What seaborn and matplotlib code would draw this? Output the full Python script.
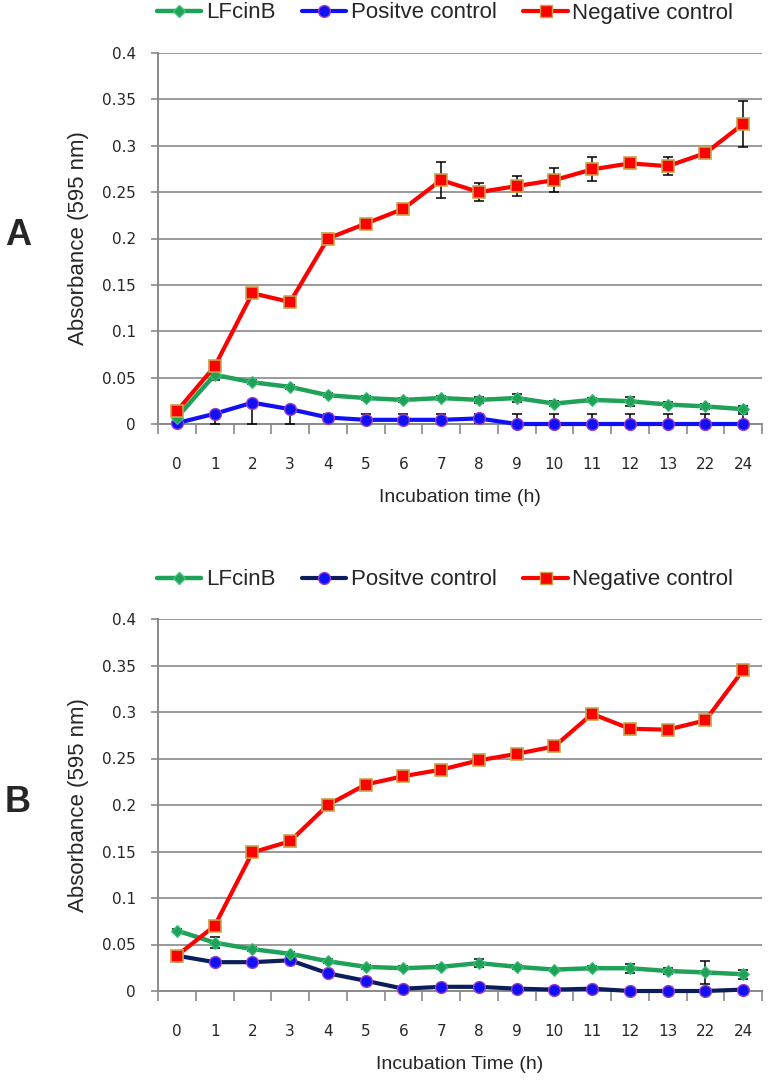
import numpy as np
import pandas as pd
import matplotlib
matplotlib.use("Agg")
import matplotlib.pyplot as plt
import seaborn as sns
from matplotlib.lines import Line2D

# ---------------- data ----------------
time_labels = ["0", "1", "2", "3", "4", "5", "6", "7", "8", "9", "10", "11", "12", "13", "22", "24"]
y_tick_values = [0, 0.05, 0.1, 0.15, 0.2, 0.25, 0.3, 0.35, 0.4]
y_tick_labels = ["0", "0.05", "0.1", "0.15", "0.2", "0.25", "0.3", "0.35", "0.4"]
series_names = ["LFcinB", "Positve control", "Negative control"]

# Panel A
lfcinb_A = [0.007, 0.053, 0.045, 0.040, 0.031, 0.028, 0.026, 0.028, 0.026, 0.028, 0.022, 0.026, 0.0245, 0.021, 0.019, 0.016]
lfcinb_A_err = [0.002, 0.006, 0.002, 0.002, 0.002, 0.002, 0.002, 0.002, 0.003, 0.004, 0.003, 0.002, 0.005, 0.003, 0.003, 0.003]
pos_A = [0.001, 0.011, 0.023, 0.016, 0.007, 0.0045, 0.0045, 0.0045, 0.006, 0, 0, 0, 0, 0, 0, 0]
pos_A_err_low = [0.001, 0.011, 0.023, 0.016, 0.004, 0.005, 0.005, 0.005, 0.005, 0.011, 0.011, 0.011, 0.011, 0.011, 0.011, 0.011]
pos_A_err_high = [0.001, 0.0, 0.0, 0.0, 0.004, 0.006, 0.006, 0.006, 0.005, 0.011, 0.011, 0.011, 0.011, 0.011, 0.011, 0.011]
neg_A = [0.014, 0.062, 0.141, 0.1315, 0.200, 0.216, 0.232, 0.263, 0.250, 0.2565, 0.263, 0.2745, 0.281, 0.278, 0.292, 0.3235]
neg_A_err = [0.003, 0.004, 0.003, 0.003, 0.003, 0.005, 0.005, 0.019, 0.010, 0.011, 0.0125, 0.013, 0.003, 0.0095, 0.003, 0.025]

# Panel B
lfcinb_B = [0.065, 0.052, 0.045, 0.040, 0.032, 0.026, 0.0245, 0.026, 0.030, 0.026, 0.023, 0.0245, 0.0245, 0.0215, 0.020, 0.018]
lfcinb_B_err = [0.002, 0.006, 0.002, 0.002, 0.002, 0.002, 0.002, 0.002, 0.004, 0.002, 0.002, 0.002, 0.005, 0.003, 0.012, 0.005]
pos_B = [0.038, 0.031, 0.031, 0.033, 0.019, 0.011, 0.0025, 0.0045, 0.0045, 0.0025, 0.0015, 0.0025, 0, 0, 0, 0.0015]
pos_B_err_low = [0.001, 0.001, 0.001, 0.002, 0.001, 0.001, 0.003, 0.001, 0.001, 0.001, 0.001, 0.001, 0.001, 0.001, 0.001, 0.001]
pos_B_err_high = [0.001, 0.001, 0.001, 0.002, 0.001, 0.001, 0.003, 0.001, 0.001, 0.001, 0.001, 0.001, 0.001, 0.001, 0.001, 0.001]
neg_B = [0.038, 0.070, 0.149, 0.161, 0.200, 0.222, 0.231, 0.238, 0.248, 0.255, 0.263, 0.298, 0.282, 0.281, 0.291, 0.345]
neg_B_err = [0.002, 0.002, 0.002, 0.002, 0.002, 0.002, 0.002, 0.002, 0.002, 0.002, 0.002, 0.002, 0.002, 0.002, 0.002, 0.002]

panel_letters = ["A", "B"]
x_labels = ["Incubation time (h)", "Incubation Time (h)"]
y_label = "Absorbance (595 nm)"

# ---------------- style ----------------
sns.set_style("white")
plt.rcParams["font.family"] = ["Liberation Sans", "DejaVu Sans"]

GREEN = "#1FA157"
RED = "#FF0000"
RED_EDGE = "#C9A24A"
BLUE = "#1010F5"
BLUE_EDGE = "#9A3CC8"
NAVY = "#0C1D5C"
GRID = "#9A9A9A"
AXC = "#8A8A8A"

W, H = 780, 1084
fig = plt.figure(figsize=(W / 100, H / 100), dpi=100)

panels = [
    dict(top=53, bottom=424, letter_y=236, leg_y=13,
         green=(lfcinb_A, lfcinb_A_err), blue=(pos_A, [pos_A_err_low, pos_A_err_high]),
         red=(neg_A, neg_A_err), blue_line=BLUE),
    dict(top=619, bottom=991, letter_y=803, leg_y=580,
         green=(lfcinb_B, lfcinb_B_err), blue=(pos_B, [pos_B_err_low, pos_B_err_high]),
         red=(neg_B, neg_B_err), blue_line=NAVY),
]

left, right = 158, 762
x = np.arange(len(time_labels))
tick_font = dict(family=["DejaVu Sans"], size=11)

for i, p in enumerate(panels):
    ax = fig.add_axes([left / W, 1 - p["bottom"] / H, (right - left) / W, (p["bottom"] - p["top"]) / H])
    ax.set_xlim(-0.5, len(time_labels) - 0.5)
    ax.set_ylim(0, 0.4)

    # error bars
    for vals, errs in (p["blue"], p["green"], p["red"]):
        ax.errorbar(x, vals, yerr=errs, fmt="none", ecolor="black", elinewidth=1.1,
                    capsize=3.5, capthick=1.1, zorder=3, clip_on=True)

    bv = p["blue"][0]
    gv = p["green"][0]
    rv = p["red"][0]
    sns.lineplot(x=x, y=bv, ax=ax, color=p["blue_line"], linewidth=3.0, marker="o", markersize=8.5,
                 markerfacecolor=BLUE, markeredgecolor=BLUE_EDGE, markeredgewidth=1.0, zorder=4,
                 clip_on=False, legend=False)
    sns.lineplot(x=x, y=gv, ax=ax, color=GREEN, linewidth=3.2, marker="D", markersize=6.5,
                 markerfacecolor=GREEN, markeredgecolor="#3CC07A", markeredgewidth=0.8, zorder=5,
                 legend=False)
    sns.lineplot(x=x, y=rv, ax=ax, color=RED, linewidth=3.0, marker="s", markersize=9,
                 markerfacecolor=RED, markeredgecolor=RED_EDGE, markeredgewidth=1.2, zorder=6,
                 legend=False)

    # axes styling
    ax.set_yticks(y_tick_values)
    ax.set_yticklabels(y_tick_labels, fontdict=tick_font)
    ax.yaxis.grid(True, color=GRID, linewidth=1.4)
    ax.xaxis.grid(False)
    ax.set_axisbelow(True)
    for s in ("top", "right"):
        ax.spines[s].set_visible(False)
    for s in ("left", "bottom"):
        ax.spines[s].set_color(AXC)
        ax.spines[s].set_linewidth(1.4)
    ax.tick_params(axis="y", which="major", left=True, length=5, width=1.2, color=AXC, pad=11)
    ax.set_xticks(x)
    ax.set_xticklabels(time_labels, fontdict=tick_font)
    ax.tick_params(axis="x", which="major", bottom=True, length=0, pad=24)
    ax.set_xticks(np.arange(-0.5, len(time_labels), 1.0), minor=True)
    ax.tick_params(axis="x", which="minor", bottom=True, length=7, width=1.2, color=AXC)

    ax.set_xlabel(x_labels[i], fontsize=14, labelpad=12)
    ax.set_ylabel(y_label, fontsize=16, labelpad=9)

    # legend
    handles = [
        Line2D([], [], color=GREEN, lw=3.2, marker="D", markersize=6.5, markerfacecolor=GREEN,
               markeredgecolor="#3CC07A"),
        Line2D([], [], color=p["blue_line"], lw=3.0, marker="o", markersize=8.5, markerfacecolor=BLUE,
               markeredgecolor=BLUE_EDGE),
        Line2D([], [], color=RED, lw=3.0, marker="s", markersize=9, markerfacecolor=RED,
               markeredgecolor=RED_EDGE),
    ]
    fig.legend(handles, series_names, loc="center", bbox_to_anchor=(445 / W, 1 - p["leg_y"] / H),
               ncol=3, frameon=False, fontsize=16, handlelength=2.0, handletextpad=0.2,
               columnspacing=1.2, borderpad=0.1)

    fig.text(5 / W, 1 - p["letter_y"] / H, panel_letters[i], fontsize=26, fontweight="bold",
             ha="left", va="center")

fig.savefig("out.png", dpi=100)
